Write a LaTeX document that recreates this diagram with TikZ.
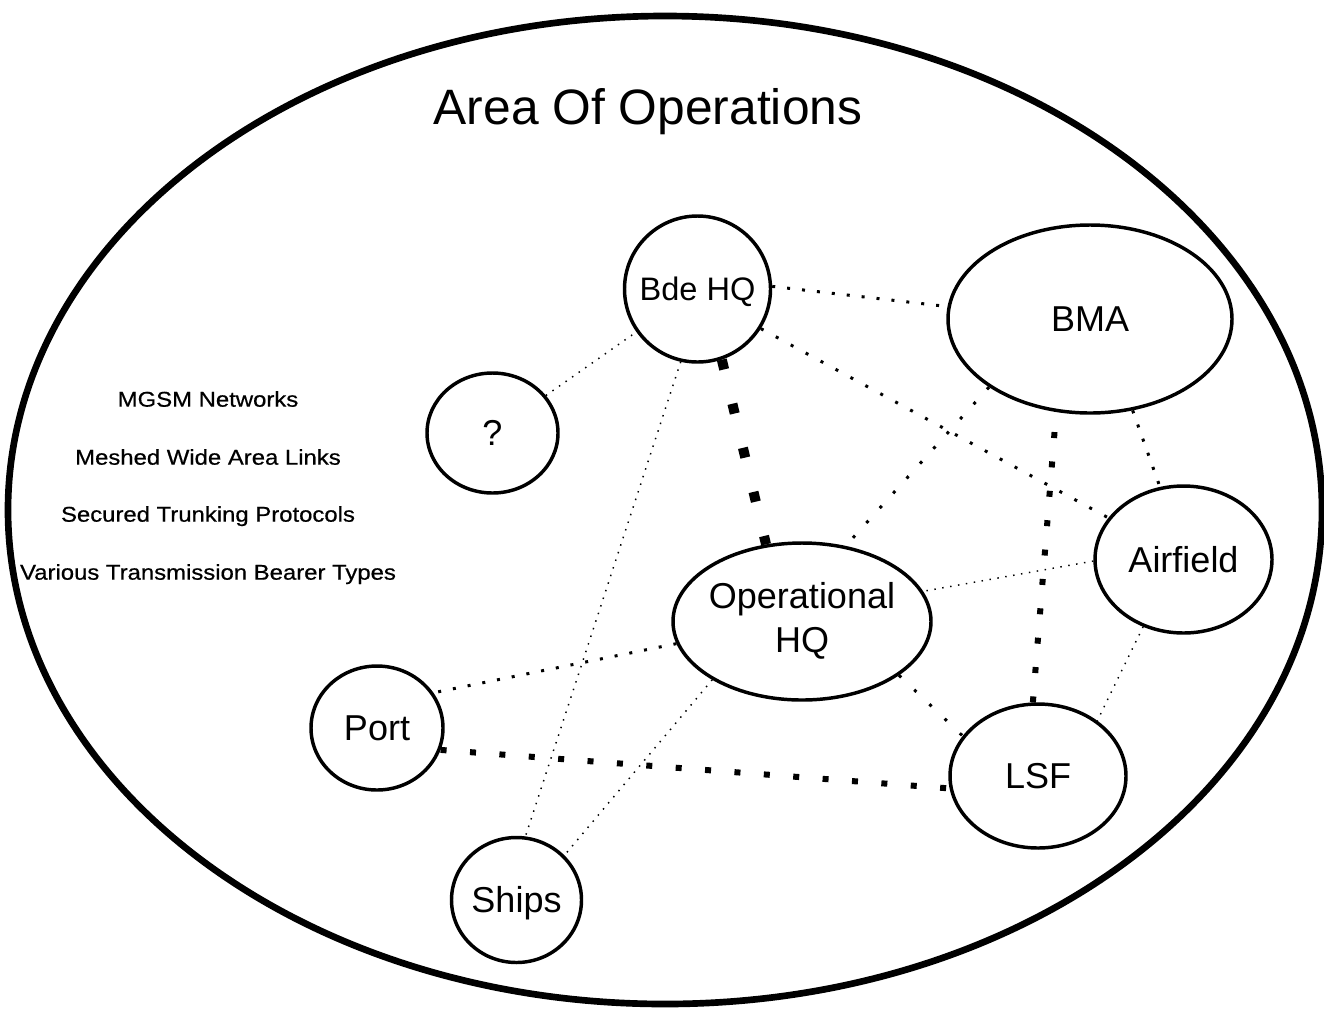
\documentclass[tikz,border=0pt]{standalone}
\usepackage{fontspec}
\setmainfont{Liberation Sans}
\newfontfamily\sidefont[FakeStretch=1.12,FakeBold=0.6]{Liberation Sans}
\usetikzlibrary{shapes.geometric}
\begin{document}
\begin{tikzpicture}[x=0.75pt,y=-0.75pt,
  site/.style={ellipse, draw, line width=2.6pt, inner sep=0pt, font=\fontsize{27pt}{33pt}\selectfont},
  oneline/.style={text height=19.3pt, text depth=0pt},
  dotA/.style={line width=2.25pt, dash pattern=on 2.25pt off #1},
  fine/.style={line width=1.1pt, dash pattern=on 1.1pt off 4.9pt},
  sqC/.style={line width=4.5pt, dash pattern=on 4.5pt off 17.6pt},
  sqD/.style={line width=7.5pt, dash pattern=on 7.5pt off 26.5pt},
  side/.style={font=\sidefont\fontsize{16pt}{19pt}\selectfont, text height=11.5pt, text depth=0pt, inner sep=0pt}
]
\fill[white] (0,0) rectangle (1324,1008);
\useasboundingbox (0,0) rectangle (1324,1008);

\node[ellipse, draw, line width=5pt, minimum width=985.5pt, minimum height=741pt, inner sep=0pt] (area) at (665,510) {};
\node[anchor=base, font=\fontsize{37.3pt}{44pt}\selectfont, inner sep=0pt] (title) at (648,124) {Area Of Operations};

\node[site, oneline, minimum width=109.5pt, minimum height=109.5pt, font=\fontsize{24.4pt}{29pt}\selectfont, text height=17.5pt] (bde) at (697.5,289) {\makebox[0pt]{Bde HQ}};
\node[site, oneline, minimum width=213pt, minimum height=141pt] (bma) at (1090,319) {BMA};
\node[site, oneline, minimum width=98.25pt, minimum height=90pt] (q) at (492.5,433) {?};
\node[site, oneline, minimum width=132.75pt, minimum height=110.25pt] (af) at (1183.5,559.5) {Airfield};
\node[site, minimum width=193.5pt, minimum height=117.75pt] (ophq) at (802,621.5) {\makebox[0pt]{\begin{tabular}{@{}c@{}}Operational\\HQ\end{tabular}}};
\node[site, oneline, minimum width=99pt, minimum height=93pt] (port) at (377,728) {Port};
\node[site, oneline, minimum width=132pt, minimum height=108pt] (lsf) at (1038,776) {LSF};
\node[site, oneline, minimum width=97.5pt, minimum height=93.75pt] (ships) at (516.5,900) {Ships};

\node[side] (t1) at (208,399) {MGSM Networks};
\node[side] (t2) at (208,457) {Meshed Wide Area Links};
\node[side] (t3) at (208,514) {Secured Trunking Protocols};
\node[side] (t4) at (208,572) {Various Transmission Bearer Types};

\draw[dotA=9pt] (bde.2) -- (bma.175);
\draw[fine] (q) -- (bde);
\draw[sqD] (bde.-71) -- (ophq.115);
\draw[dotA=10.5pt] (bde.-32) -- (af.151);
\draw[fine] (bde.257) -- (ships.82);
\draw[dotA=12.75pt] (bma.214) -- (ophq.60);
\draw[dotA=9pt] (bma.-65) -- (af.108);
\draw[sqC] (lsf.94) -- (bma.-110);
\draw[fine] (af.181) -- (ophq.14);
\draw[fine] (af.-121) -- (lsf.43);
\draw[dotA=9pt] (ophq.190) -- (port.32);
\draw[dotA=13.5pt] (ophq.-29) -- (lsf.152);
\draw[fine] (ophq.213) -- (ships.43);
\draw[sqC] (port.-19) -- (lsf.188);
\end{tikzpicture}
\end{document}
